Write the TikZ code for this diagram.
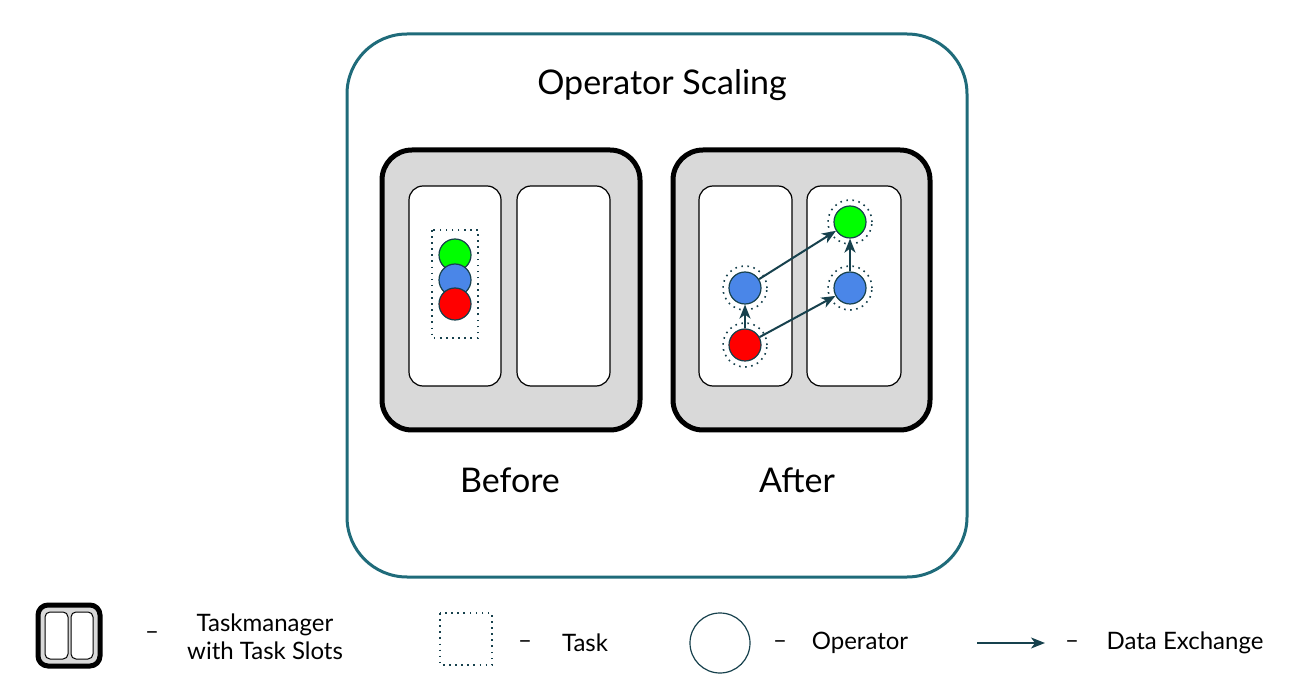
\documentclass[tikz,border=0pt]{standalone}
\usepackage{fontspec}
\setmainfont{Lato}
\usetikzlibrary{arrows.meta}
\definecolor{teal1}{HTML}{1F6B7A}
\definecolor{dark}{HTML}{17414D}
\definecolor{gr}{HTML}{00FF00}
\definecolor{bl}{HTML}{4A86E8}
\definecolor{rd}{HTML}{FF0000}
\begin{document}
\begin{tikzpicture}[x=1pt,y=-1pt,
 tm/.style={draw=black,line width=5pt,fill=black!15,rounded corners=30pt},
 slot/.style={draw=black,line width=1.2pt,fill=white,rounded corners=14pt},
 op/.style={circle,draw=dark,line width=1.2pt,minimum size=32pt,inner sep=0pt},
 dots/.style={draw=dark,line width=1.6pt,dash pattern=on 1.6pt off 4.5pt},
 task/.style={circle,dots,minimum size=44pt,inner sep=0pt},
 ex/.style={-{Stealth[length=14pt,width=11pt,inset=4pt]},draw=dark,line width=2pt},
 lbl/.style={font=\fontsize{34}{40}\selectfont},
 leg/.style={font=\fontsize{24}{28}\selectfont,align=center}]
\useasboundingbox (0,0) rectangle (1302,684);
\draw[teal1,line width=3pt,rounded corners=60pt] (347,34) rectangle (967,577);
\node[lbl] (title) at (662,85) {Operator Scaling};
% Before
\draw[tm] (382,150) rectangle (640,430);
\draw[slot] (409,186) rectangle (501,386);
\draw[slot] (517,186) rectangle (610,386);
\draw[dots] (432,230) rectangle (478,338);
\node[op,fill=gr] (g0) at (455,255) {};
\node[op,fill=bl] (b0) at (455,280) {};
\node[op,fill=rd] (r0) at (455,304) {};
\node[lbl] (before) at (510,480) {Before};
% After
\draw[tm] (673,150) rectangle (930,430);
\draw[slot] (699,186) rectangle (792,386);
\draw[slot] (807,186) rectangle (901,386);
\node[task] (tb1) at (745,288) {};
\node[task] (tr) at (745,345) {};
\node[task] (tb2) at (850,288) {};
\node[task] (tg) at (850,222) {};
\node[op,fill=bl] (b1) at (745,288) {};
\node[op,fill=rd] (r1) at (745,345) {};
\node[op,fill=bl] (b2) at (850,288) {};
\node[op,fill=gr] (g1) at (850,222) {};
\draw[ex] (r1) -- (b1);
\draw[ex] (b1) -- (g1);
\draw[ex] (r1) -- (b2);
\draw[ex] (b2) -- (g1);
\node[lbl] (after) at (797,480) {After};
% Legend
\draw[draw=black,line width=5pt,fill=black!15,rounded corners=10pt] (38,605) rectangle (100,666);
\draw[slot,rounded corners=5pt,line width=1pt] (45,612) rectangle (68,659);
\draw[slot,rounded corners=5pt,line width=1pt] (71,612) rectangle (93,659);
\node[leg] (d1) at (152,636) {–};
\node[leg] (l1) at (265,637) {Taskmanager\\with Task Slots};
\draw[dots] (440,613) rectangle (492,665);
\node[leg] (d2) at (525,645) {–};
\node[leg] (l2) at (585,643) {Task};
\node[circle,draw=dark,line width=1.2pt,minimum size=60pt] (lo) at (720,643) {};
\node[leg] (d3) at (780,645) {–};
\node[leg] (l3) at (860,643) {Operator};
\coordinate (a0) at (977,643);
\coordinate (a1) at (1045,643);
\draw[ex,line width=1.5pt] (a0) -- (a1);
\node[leg] (d4) at (1072,645) {–};
\node[leg] (l4) at (1185,643) {Data Exchange};
\end{tikzpicture}
\end{document}
